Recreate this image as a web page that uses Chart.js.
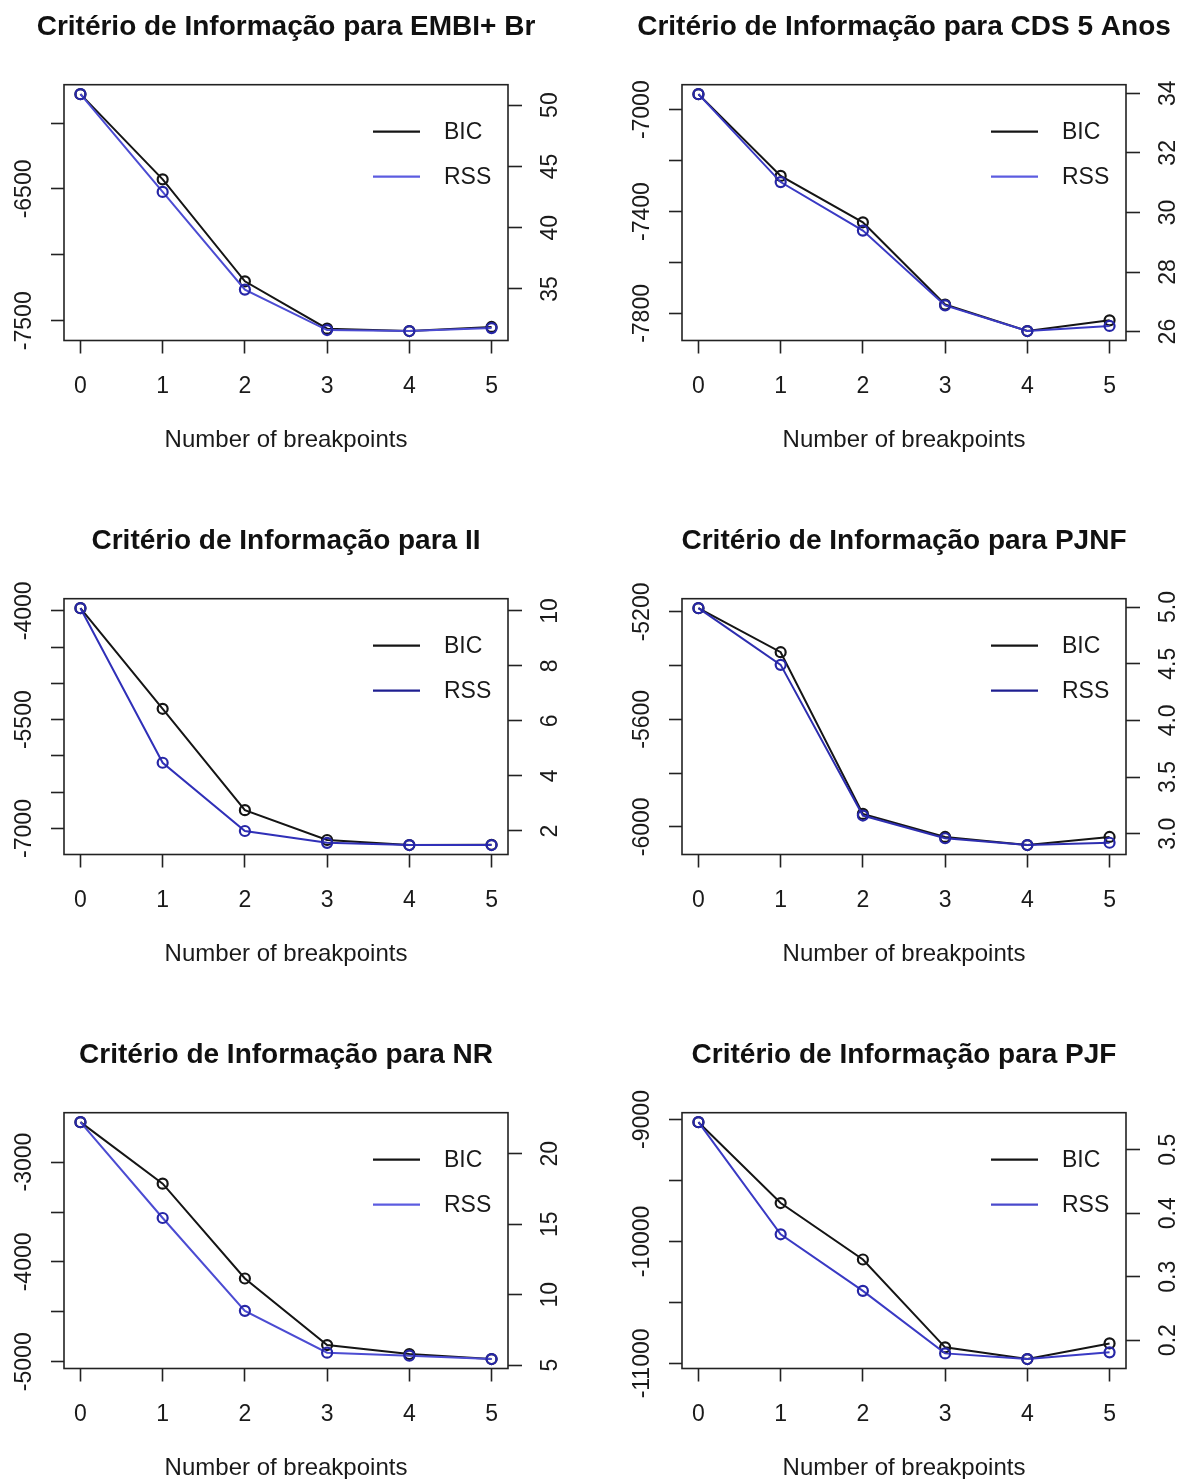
<!DOCTYPE html>
<html>
<head>
<meta charset="utf-8">
<script src="https://cdn.jsdelivr.net/npm/chart.js@4.4.0/dist/chart.umd.min.js"></script>
<style>
html,body{margin:0;padding:0;background:#fff;overflow:hidden;width:1180px;height:1479px;position:relative;}
.p{position:absolute;width:572px;height:455px;}
canvas{display:block;}
</style>
</head>
<body>
<div class="p" style="left:0px;top:0px"><canvas id="c0" width="572" height="455"></canvas></div>
<div class="p" style="left:618px;top:0px"><canvas id="c1" width="572" height="455"></canvas></div>
<div class="p" style="left:0px;top:514px"><canvas id="c2" width="572" height="455"></canvas></div>
<div class="p" style="left:618px;top:514px"><canvas id="c3" width="572" height="455"></canvas></div>
<div class="p" style="left:0px;top:1028px"><canvas id="c4" width="572" height="455"></canvas></div>
<div class="p" style="left:618px;top:1028px"><canvas id="c5" width="572" height="455"></canvas></div>
<script>
// ---------- data ----------
const breakpoints = [0, 1, 2, 3, 4, 5];
const xAxisTitle = 'Number of breakpoints';
const seriesNames = ['BIC', 'RSS'];
const titles = [
  'Critério de Informação para EMBI+ Br',
  'Critério de Informação para CDS 5 Anos',
  'Critério de Informação para II',
  'Critério de Informação para PJNF',
  'Critério de Informação para NR',
  'Critério de Informação para PJF'
];

const embiBIC = [-5781, -6427, -7201, -7560, -7578, -7547];
const embiRSS = [50.89, 42.92, 34.95, 31.65, 31.57, 31.81];
const cdsBIC  = [-6939, -7260, -7442, -7765, -7869, -7827];
const cdsRSS  = [33.97, 31.02, 29.39, 26.88, 26.02, 26.19];
const iiBIC   = [-3963, -5350, -6747, -7159, -7228, -7225];
const iiRSS   = [10.10, 4.48, 2.00, 1.57, 1.49, 1.49];
const pjnfBIC = [-5186, -5350, -5952, -6038, -6068, -6038];
const pjnfRSS = [4.99, 4.49, 3.16, 2.96, 2.90, 2.92];
const nrBIC   = [-2600, -3216, -4166, -4833, -4923, -4973];
const nrRSS   = [22.24, 15.44, 8.85, 5.88, 5.67, 5.43];
const pjfBIC  = [-9022, -9685, -10148, -10868, -10964, -10836];
const pjfRSS  = [0.5434, 0.3668, 0.2777, 0.1792, 0.1703, 0.1808];

// tick values (left = BIC axis, right = RSS axis) and which left ticks carry labels
const embiBicTicks = [-6000, -6500, -7000, -7500];
const embiBicLabeled = [-6500, -7500];
const embiRssTicks = [35, 40, 45, 50];
const cdsBicTicks = [-7000, -7200, -7400, -7600, -7800];
const cdsBicLabeled = [-7000, -7400, -7800];
const cdsRssTicks = [26, 28, 30, 32, 34];
const iiBicTicks = [-4000, -4500, -5000, -5500, -6000, -6500, -7000];
const iiBicLabeled = [-4000, -5500, -7000];
const iiRssTicks = [2, 4, 6, 8, 10];
const pjnfBicTicks = [-5200, -5400, -5600, -5800, -6000];
const pjnfBicLabeled = [-5200, -5600, -6000];
const pjnfRssTicks = [3.0, 3.5, 4.0, 4.5, 5.0];
const nrBicTicks = [-3000, -3500, -4000, -4500, -5000];
const nrBicLabeled = [-3000, -4000, -5000];
const nrRssTicks = [5, 10, 15, 20];
const pjfBicTicks = [-9000, -9500, -10000, -10500, -11000];
const pjfBicLabeled = [-9000, -10000, -11000];
const pjfRssTicks = [0.2, 0.3, 0.4, 0.5];

// ---------- styling ----------
const FONT = '"Liberation Sans", Arial, Helvetica, sans-serif';
Chart.defaults.font.family = FONT;
const AX = '#222';
const TXT = '#1a1a1a';

const boxPlugin = {
  id: 'rbox',
  beforeDatasetsDraw(chart) {
    const {ctx, chartArea: a} = chart;
    ctx.save();
    ctx.strokeStyle = AX; ctx.lineWidth = 1.6;
    ctx.strokeRect(a.left, a.top, a.right - a.left, a.bottom - a.top);
    ctx.restore();
  }
};

const yLabelPlugin = {
  id: 'ylabels',
  afterDraw(chart) {
    const {ctx, chartArea: a} = chart;
    const defs = [['y', a.left - 39.5], ['y2', a.right + 43]];
    ctx.save();
    ctx.font = '23px ' + FONT;
    ctx.fillStyle = TXT;
    ctx.textAlign = 'center';
    ctx.textBaseline = 'middle';
    defs.forEach(([id, xc]) => {
      const s = chart.scales[id];
      s.ticks.forEach(t => {
        if (!t.label) return;
        const y = s.getPixelForValue(t.value);
        ctx.save();
        ctx.translate(xc, y);
        ctx.rotate(-Math.PI / 2);
        ctx.fillText(t.label, 0, 0);
        ctx.restore();
      });
    });
    ctx.restore();
  }
};

const legendPlugin = {
  id: 'rlegend',
  afterDraw(chart) {
    const {ctx, chartArea: a} = chart;
    const dsets = chart.data.datasets;
    const rows = [47, 92];
    ctx.save();
    ctx.font = '23px ' + FONT;
    ctx.textAlign = 'left';
    ctx.textBaseline = 'middle';
    dsets.forEach((d, i) => {
      const y = a.top + rows[i];
      ctx.strokeStyle = d.legendColor || d.borderColor;
      ctx.lineWidth = 2.2;
      ctx.beginPath();
      ctx.moveTo(a.right - 135, y);
      ctx.lineTo(a.right - 88, y);
      ctx.stroke();
      ctx.fillStyle = TXT;
      ctx.fillText(d.label, a.right - 64, y + 1);
    });
    ctx.restore();
  }
};

function ext(arr) {
  const mn = Math.min(...arr), mx = Math.max(...arr), r = mx - mn;
  return {min: mn - 0.04 * r, max: mx + 0.04 * r};
}

function makeChart(id, title, bic, rss, bicTicks, bicLabeled, rssTicks, rssDecimals, rssLine, rssLegend) {
  const eb = ext(bic), er = ext(rss);
  new Chart(document.getElementById(id), {
    type: 'line',
    data: {
      datasets: [
        {
          label: seriesNames[0], yAxisID: 'y', order: 1,
          data: breakpoints.map((x, i) => ({x, y: bic[i]})),
          borderColor: '#151515', borderWidth: 2,
          pointRadius: 5, pointBorderWidth: 2.2, pointBorderColor: '#151515',
          pointBackgroundColor: 'rgba(0,0,0,0)', tension: 0, legendColor: '#151515'
        },
        {
          label: seriesNames[1], yAxisID: 'y2', order: 0,
          data: breakpoints.map((x, i) => ({x, y: rss[i]})),
          borderColor: rssLine, borderWidth: 2,
          pointRadius: 5, pointBorderWidth: 2.2, pointBorderColor: '#2626a6',
          pointBackgroundColor: 'rgba(0,0,0,0)', tension: 0, legendColor: rssLegend
        }
      ]
    },
    options: {
      responsive: false, animation: false, devicePixelRatio: 1,
      layout: {padding: 0},
      plugins: {
        legend: {display: false},
        tooltip: {enabled: false},
        title: {
          display: true, text: title, fullSize: true, color: '#111',
          font: {size: 28, weight: 'bold', family: FONT, lineHeight: 1.2},
          padding: {top: 10.8, bottom: 40.3}
        }
      },
      scales: {
        x: {
          type: 'linear', position: 'bottom', min: -0.2, max: 5.2,
          afterBuildTicks: s => { s.ticks = breakpoints.map(v => ({value: v})); },
          afterFit: s => { s.height = 114.5; },
          ticks: {color: TXT, font: {size: 23, family: FONT}, padding: 19, maxRotation: 0, autoSkip: false,
                  callback: v => String(v)},
          grid: {drawOnChartArea: false, drawTicks: true, tickLength: 13, tickWidth: 1.6, tickColor: AX},
          border: {display: false},
          title: {display: true, text: xAxisTitle, color: TXT, font: {size: 24, family: FONT, lineHeight: 1.2}, padding: 0}
        },
        y: {
          type: 'linear', position: 'left', min: eb.min, max: eb.max,
          afterBuildTicks: s => { s.ticks = bicTicks.map(v => ({value: v})); },
          afterFit: s => { s.width = 64; },
          ticks: {display: false, callback: v => bicLabeled.includes(v) ? String(v) : ''},
          grid: {drawOnChartArea: false, drawTicks: true, tickLength: 13, tickWidth: 1.6, tickColor: AX},
          border: {display: false}
        },
        y2: {
          type: 'linear', position: 'right', min: er.min, max: er.max,
          afterBuildTicks: s => { s.ticks = rssTicks.map(v => ({value: v})); },
          afterFit: s => { s.width = 64; },
          ticks: {display: false, callback: v => Number(v).toFixed(rssDecimals)},
          grid: {drawOnChartArea: false, drawTicks: true, tickLength: 14, tickWidth: 1.6, tickColor: AX},
          border: {display: false}
        }
      }
    },
    plugins: [boxPlugin, yLabelPlugin, legendPlugin]
  });
}

makeChart('c0', titles[0], embiBIC, embiRSS, embiBicTicks, embiBicLabeled, embiRssTicks, 0, '#4c4cd2', '#5c5ce0');
makeChart('c1', titles[1], cdsBIC, cdsRSS, cdsBicTicks, cdsBicLabeled, cdsRssTicks, 0, '#3a3ac4', '#5c5ce0');
makeChart('c2', titles[2], iiBIC, iiRSS, iiBicTicks, iiBicLabeled, iiRssTicks, 0, '#3030b8', '#1e1e90');
makeChart('c3', titles[3], pjnfBIC, pjnfRSS, pjnfBicTicks, pjnfBicLabeled, pjnfRssTicks, 1, '#2e2eb0', '#1e1e90');
makeChart('c4', titles[4], nrBIC, nrRSS, nrBicTicks, nrBicLabeled, nrRssTicks, 0, '#4c4cd2', '#5c5ce0');
makeChart('c5', titles[5], pjfBIC, pjfRSS, pjfBicTicks, pjfBicLabeled, pjfRssTicks, 1, '#3a3ac4', '#4a4acc');
</script>
</body>
</html>
